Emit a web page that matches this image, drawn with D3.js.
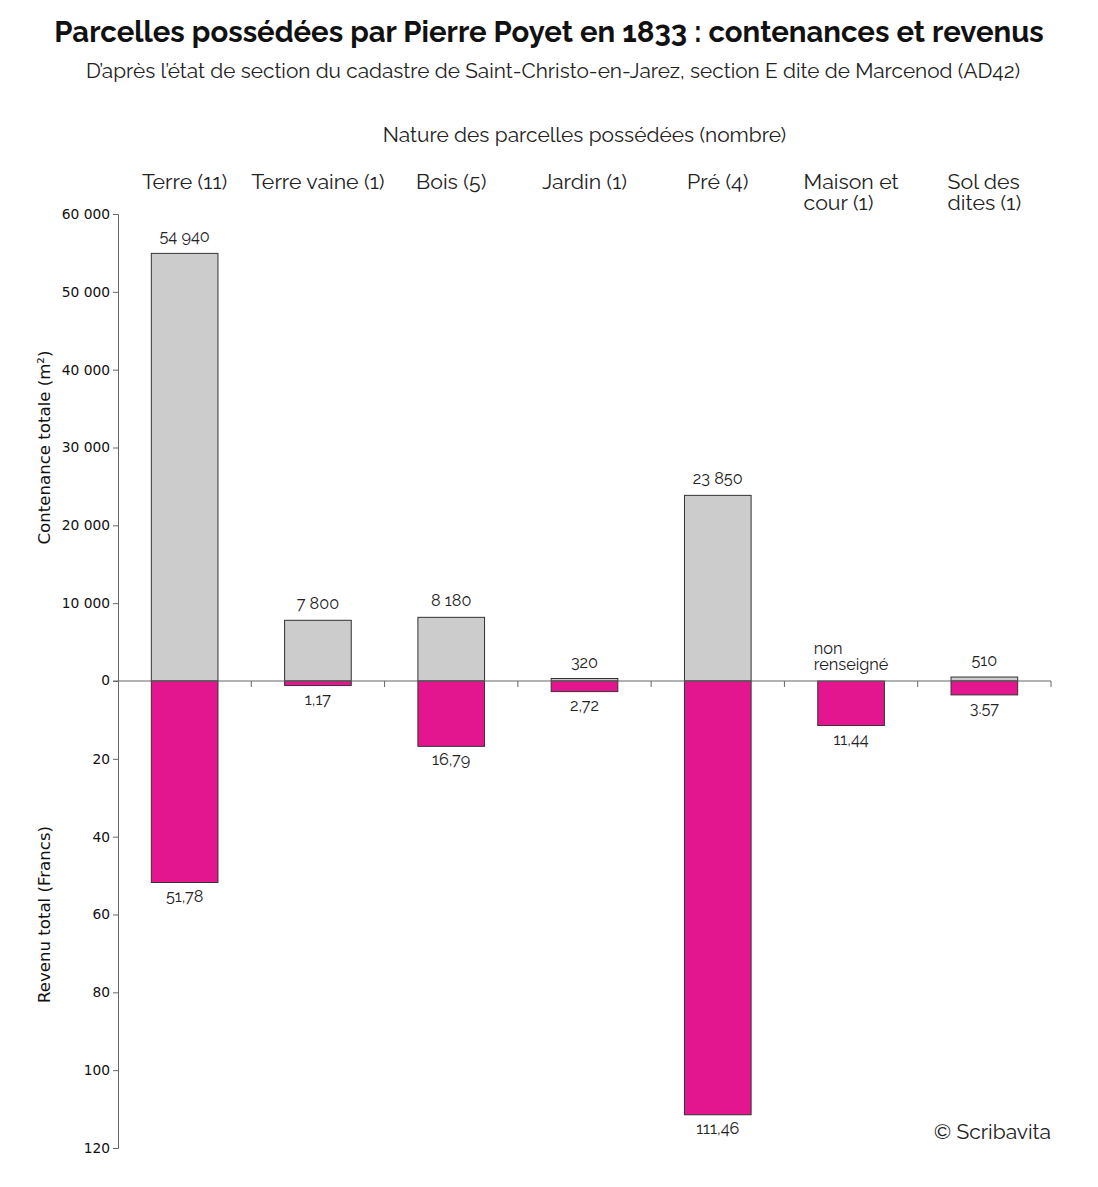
<!DOCTYPE html>
<html><head><meta charset="utf-8">
<script src="https://cdn.jsdelivr.net/npm/d3@7"></script>
<style>body{margin:0;background:#fff}svg{display:block}</style>
</head><body>
<svg id="c" width="1098" height="1187"></svg>
<script>
const categories = ["Terre (11)", "Terre vaine (1)", "Bois (5)", "Jardin (1)", "Pré (4)", "Maison et\ncour (1)", "Sol des\ndites (1)"];
const contenance = [54940, 7800, 8180, 320, 23850, 0, 510];
const contenanceLabels = ["54 940", "7 800", "8 180", "320", "23 850", "non\nrenseigné", "510"];
const revenu = [51.78, 1.17, 16.79, 2.72, 111.46, 11.44, 3.57];
const revenuLabels = ["51,78", "1,17", "16,79", "2,72", "111,46", "11,44", "3.57"];
const contTicks = [0, 10000, 20000, 30000, 40000, 50000, 60000];
const contTickLabels = ["0", "10 000", "20 000", "30 000", "40 000", "50 000", "60 000"];
const revTicks = [20, 40, 60, 80, 100, 120];
const revTickLabels = ["20", "40", "60", "80", "100", "120"];

const FONT = "Raleway, 'Open Sans', Lato, sans-serif";
const svg = d3.select("#c");
const L = 118, R = 1051, T = 214, Z = 681, B = 1148;

const x = d3.scaleBand().domain(categories).range([L, R]).paddingInner(0.5).paddingOuter(0.25);
const yC = d3.scaleLinear().domain([0, 60000]).range([Z, T]);
const yR = d3.scaleLinear().domain([0, 120]).range([Z, B]);

// Title
svg.append("text").attr("x", 549).attr("y", 42).attr("text-anchor", "middle")
  .style("font-family", FONT).style("font-weight", "700").style("font-size", "29.3px").attr("fill", "#111")
  .text("Parcelles possédées par Pierre Poyet en 1833 : contenances et revenus");
svg.append("text").attr("x", 553).attr("y", 78).attr("text-anchor", "middle")
  .style("font-family", FONT).style("font-size", "20.8px").attr("fill", "#222")
  .text("D’après l’état de section du cadastre de Saint-Christo-en-Jarez, section E dite de Marcenod (AD42)");
svg.append("text").attr("x", (L + R) / 2).attr("y", 142).attr("text-anchor", "middle")
  .style("font-family", FONT).style("font-size", "20.9px").attr("fill", "#222")
  .text("Nature des parcelles possédées (nombre)");

// multi-line block: centred on widest line, lines left-aligned
function block(g, cx, y0, lines, size, lh) {
  const t = g.append("text").attr("y", y0).style("font-family", FONT).style("font-size", size + "px").attr("fill", "#222");
  lines.forEach((s, i) => t.append("tspan").attr("dy", i ? lh : 0).text(s));
  let w = 0;
  t.selectAll("tspan").each(function () { w = Math.max(w, this.getComputedTextLength()); });
  t.selectAll("tspan").attr("x", cx - w / 2);
  return t;
}

// Category labels
const catG = svg.append("g");
categories.forEach(c => block(catG, x(c) + x.bandwidth() / 2, 189, c.split("\n"), 21.3, 21));

// Bars
svg.append("g").selectAll("rect").data(categories).join("rect")
  .attr("x", d => x(d)).attr("width", x.bandwidth())
  .attr("y", (d, i) => yC(contenance[i])).attr("height", (d, i) => Z - yC(contenance[i]))
  .attr("fill", "#cccccc").attr("stroke", (d, i) => contenance[i] > 0 ? "#333" : "none").attr("stroke-width", 1);
svg.append("g").selectAll("rect").data(categories).join("rect")
  .attr("x", d => x(d)).attr("width", x.bandwidth())
  .attr("y", Z).attr("height", (d, i) => yR(revenu[i]) - Z)
  .attr("fill", "#e3168f").attr("stroke", "#333").attr("stroke-width", 1);

// Value labels
const vG = svg.append("g");
categories.forEach((c, i) => {
  const cx = x(c) + x.bandwidth() / 2;
  const lines = contenanceLabels[i].split("\n");
  const yTop = yC(contenance[i]) - 11 - (lines.length - 1) * 16;
  const t = block(vG, cx, yTop, lines, 16.3, 16);
  if (lines.length === 1) t.attr("text-anchor", "middle").selectAll("tspan").attr("x", cx);
  vG.append("text").attr("x", cx).attr("y", yR(revenu[i]) + 19).attr("text-anchor", "middle")
    .style("font-family", FONT).style("font-size", "16.3px").attr("fill", "#222").text(revenuLabels[i]);
});

// Y axes
const TF = "'DejaVu Sans', sans-serif";
const axC = d3.axisLeft(yC).tickValues(contTicks.slice(1)).tickSize(5).tickFormat((d) => contTickLabels[contTicks.indexOf(d)]);
const axR = d3.axisLeft(yR).tickValues(revTicks).tickSize(5).tickFormat((d) => revTickLabels[revTicks.indexOf(d)]);
const gC = svg.append("g").attr("transform", `translate(${L},0)`).call(axC);
const gR = svg.append("g").attr("transform", `translate(${L},0)`).call(axR);
[gC, gR].forEach(g => {
  g.select(".domain").attr("stroke", "#666");
  g.selectAll(".tick line").attr("stroke", "#666");
  g.selectAll(".tick text").style("font-family", TF).style("font-size", "13.8px").style("font-weight", "400").attr("fill", "#111").attr("x", -8);
});
// zero label
svg.append("text").attr("x", L - 8).attr("y", Z).attr("dy", "0.32em").attr("text-anchor", "end")
  .style("font-family", TF).style("font-size", "13.8px").attr("fill", "#111").text(contTickLabels[0]);

// Baseline with boundary ticks
const xb = svg.append("g");
xb.append("line").attr("x1", L - 5).attr("x2", R).attr("y1", Z).attr("y2", Z).attr("stroke", "#666").attr("stroke-width", 1.2);
const bounds = categories.map(c => x(c) - x.step() * 0.25 + x.step());
xb.selectAll("line.t").data(bounds).join("line").attr("class", "t")
  .attr("x1", d => d).attr("x2", d => d).attr("y1", Z).attr("y2", Z + 6).attr("stroke", "#666");

// Axis titles
svg.append("text").attr("transform", `translate(50,${(T + Z) / 2}) rotate(-90)`).attr("text-anchor", "middle")
  .style("font-family", TF).style("font-size", "16.6px").attr("fill", "#111").text("Contenance totale (m²)");
svg.append("text").attr("transform", `translate(50,${(Z + B) / 2}) rotate(-90)`).attr("text-anchor", "middle")
  .style("font-family", TF).style("font-size", "16.6px").attr("fill", "#111").text("Revenu total (Francs)");

// Credit
svg.append("text").attr("x", R).attr("y", 1139).attr("text-anchor", "end")
  .style("font-family", FONT).style("font-size", "21px").attr("fill", "#222").text("© Scribavita");
</script>
</body></html>
